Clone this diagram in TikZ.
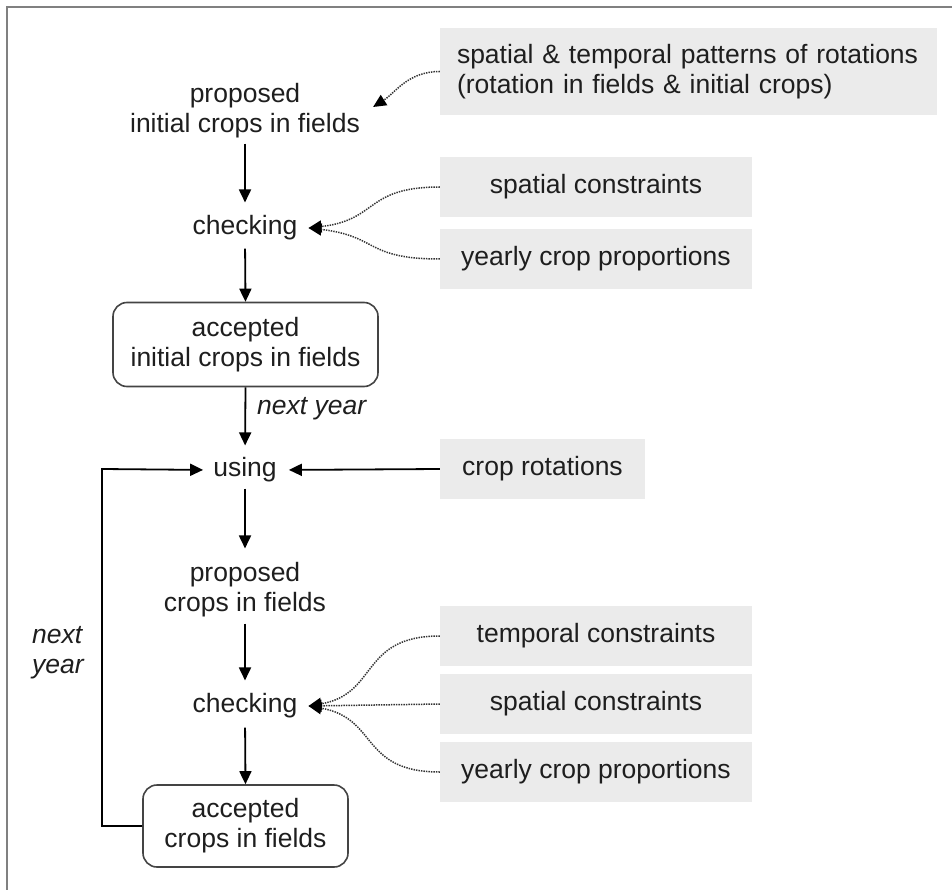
\documentclass[tikz,border=0pt]{standalone}
\usepackage{fontspec}
\setmainfont{Liberation Sans}
\usetikzlibrary{arrows.meta}
\definecolor{txt}{HTML}{1E1E1E}
\definecolor{boxfill}{HTML}{EBEBEB}
\definecolor{boxline}{HTML}{444444}
\definecolor{dotc}{HTML}{333333}
\definecolor{framec}{HTML}{808080}
\newcommand\fs{\fontsize{26.5}{30}\selectfont}
\begin{document}
\begin{tikzpicture}[x=1pt,y=-1pt,
  lbl/.style={font=\fs, text=txt, inner sep=0pt, align=center},
  itlbl/.style={font=\fs\itshape, text=txt, inner sep=0pt, align=left},
  gbox/.style={fill=boxfill, font=\fs, text=txt, inner sep=0pt,
    minimum width=312pt, minimum height=60pt},
  rbox/.style={draw=boxline, line width=1.6pt, rounded corners=14pt,
    font=\fs, text=txt, inner sep=0pt, align=center},
  tip/.style={-{Triangle[length=13pt,width=12pt]}},
  arr/.style={tip, line width=1.8pt, draw=black},
  dots/.style={tip, dash pattern=on 1.4pt off 1.1pt, line width=1.5pt, draw=dotc,
    arrows={-{Triangle[length=13pt,width=12pt,fill=black,color=black]}}},
  frame/.style={draw=framec, line width=2pt}
]
\useasboundingbox (0,0) rectangle (952,890);
\draw[frame] (7,890) -- (7,7) -- (952,7);

% main column
\node[lbl] (prop1) at (245,111) {proposed\\initial crops in fields};
\node[lbl] (chk1) at (245,228) {checking};
\node[rbox, minimum width=265pt, minimum height=84pt] (acc1) at (245.5,344.5)
  {accepted\\initial crops in fields};
\node[lbl] (use) at (245,470) {using};
\node[lbl] (prop2) at (245,590) {proposed\\crops in fields};
\node[lbl] (chk2) at (245,706) {checking};
\node[rbox, minimum width=205pt, minimum height=82pt] (acc2) at (245.5,826)
  {accepted\\crops in fields};

% input boxes
\node[gbox, minimum width=497pt, minimum height=87pt, text width=463pt,
  inner xsep=17pt, align=left] (g1) at (688.5,71.5)
  {spatial \& temporal patterns of rotations\\(rotation in fields \& initial crops)};
\node[gbox] (g2) at (596,187) {spatial constraints};
\node[gbox] (g3) at (596,259) {yearly crop proportions};
\node[gbox, minimum width=205pt] (g4) at (542.5,469) {crop rotations};
\node[gbox] (g5) at (596,636) {temporal constraints};
\node[gbox] (g6) at (596,704) {spatial constraints};
\node[gbox] (g7) at (596,772) {yearly crop proportions};

% labels
\node[itlbl, anchor=west] (ny1) at (257,409) {next year};
\node[itlbl] (ny2) at (58,653) {next\\year};

% main flow
\draw[arr, shorten <=5pt, shorten >=13pt] (prop1.south) -- (chk1.north);
\draw[arr, shorten <=8pt] (chk1.south) -- (acc1.north);
\draw[arr, shorten >=12pt] (acc1.south) -- (use.north);
\draw[arr, shorten <=6pt, shorten >=14pt] (use.south) -- (prop2.north);
\draw[arr, shorten <=6pt, shorten >=13pt] (prop2.south) -- (chk2.north);
\draw[arr, shorten <=9pt] (chk2.south) -- (acc2.north);

% feedback loop and rotations input
\coordinate (loopb) at (102,826);
\coordinate (loopt) at (102,469);
\draw[arr, shorten >=10pt] (acc2.west) -- (loopb) -- (loopt) -- ([yshift=0pt]use.west);
\draw[arr, shorten >=12pt] (g4.west) -- (use.east);

% dotted influences
\coordinate (t1) at ([shift={(13,-4)}]prop1.east);
\draw[dots] (g1.west) .. controls +(-32,0) and +(22,-14) .. (t1);
\coordinate (t2) at ([xshift=11pt]chk1.east);
\draw[dots] (g2.west) .. controls +(-75,0) and +(70,-8) .. (t2);
\draw[dots] (g3.west) .. controls +(-75,0) and +(70,8) .. (t2);
\coordinate (t3) at ([xshift=11pt]chk2.east);
\draw[dots] (g5.west) .. controls +(-80,0) and +(70,-12) .. (t3);
\draw[dots] (g6.west) -- (t3);
\draw[dots] (g7.west) .. controls +(-80,0) and +(70,12) .. (t3);
\end{tikzpicture}
\end{document}
